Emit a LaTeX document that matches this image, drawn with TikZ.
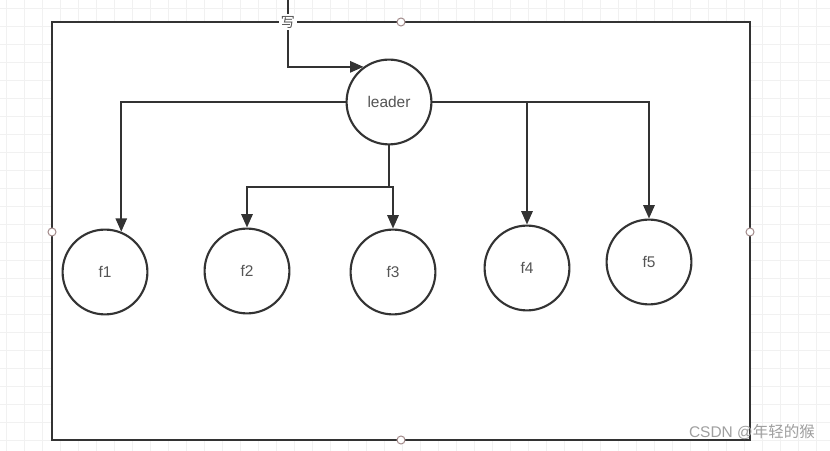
\documentclass[tikz,border=0pt]{standalone}
\usepackage{fontspec}
\setmainfont{Liberation Sans}
\newfontfamily\cjk{Noto Sans CJK SC}
\usetikzlibrary{arrows.meta}
\definecolor{linecol}{HTML}{333333}
\definecolor{labelcol}{HTML}{555555}
\definecolor{gridcol}{HTML}{F1F1F1}
\definecolor{handlecol}{HTML}{A08888}
\tikzset{
	member/.style={circle, draw=linecol, line width=1.5pt, fill=white, minimum size=2.12cm, inner sep=0pt, text=labelcol, font=\fontsize{11}{13}\selectfont},
	conn/.style={draw=linecol, line width=1.5pt, -{Triangle[length=9.5pt,width=8pt]}},
	plain/.style={draw=linecol, line width=1.5pt},
	handle/.style={circle, draw=handlecol, line width=0.7pt, fill=white, minimum size=0.2cm, inner sep=0pt},
	gridline/.style={draw=gridcol, line width=0.5pt}
}
\begin{document}
\begin{tikzpicture}[x=0.025cm,y=-0.025cm]
				\useasboundingbox (0,0) rectangle (830,451);
				\fill[white] (0,0) rectangle (830,451);
				
				\foreach \gx in {6,24,...,830} \draw[gridline] (\gx,0) -- (\gx,451);
				\foreach \gy in {8,26,...,451} \draw[gridline] (0,\gy) -- (830,\gy);
				
				\draw[plain, fill=white] (52,22) rectangle (750,440);
				
				\node[member] (leader) at (389,102) {leader};
				
				\node[member] (f1) at (105,272) {f1};
				\node[member] (f2) at (247,271) {f2};
				\node[member] (f3) at (393,272) {f3};
				\node[member] (f4) at (527,268) {f4};
				\node[member] (f5) at (649,262) {f5};
				
				\coordinate (entry) at (288,0);
				\coordinate (split) at (389,187);
				
				\draw[conn] (entry) |- (leader.126);
				\draw[conn] (leader.west) -| (f1.68);
				\draw[conn] (leader.east) -| (f4.north);
				\draw[conn] (leader.east) -| (f5.north);
				\draw[plain] (leader.south) -- (split);
				\draw[conn] (split) -| (f2.north);
				\draw[conn] (split) -| (f3.north);
				
				\node[fill=white, inner sep=1.5pt, text=labelcol, font=\cjk\fontsize{10}{12}\selectfont] (write) at (288,22) {写};
				
				\node[handle] (hn) at (401,22) {};
				\node[handle] (hw) at (52,232) {};
				\node[handle] (he) at (750,232) {};
				\node[handle] (hs) at (401,440) {};
				
				\node[anchor=east, inner sep=0pt, text=gray!75, font=\fontsize{11}{13}\selectfont] (mark) at (815,432) {CSDN @{\cjk 年轻的猴}};
			\end{tikzpicture}
\end{document}
